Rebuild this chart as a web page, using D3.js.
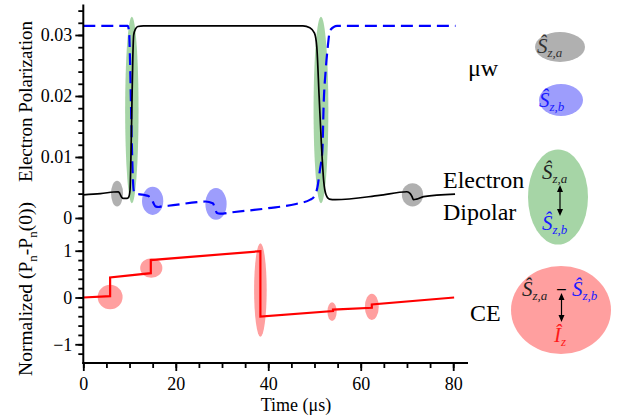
<!DOCTYPE html>
<html><head><meta charset="utf-8">
<script src="https://cdnjs.cloudflare.com/ajax/libs/d3/7.8.5/d3.min.js"></script>
<style>
body{margin:0;background:#fff}
svg{display:block}
svg text{font-family:"Liberation Serif","Times New Roman","DejaVu Serif",serif !important}
</style>
</head><body>
<svg id="c" width="618" height="419" font-family="Liberation Serif"></svg>
<script>
// ---------- data ----------
// electron polarization, S_z,a (solid black)
const saTime = [0, 3.7, 7.6, 7.9, 8.3, 8.7, 9.4, 9.8, 10.1, 10.3, 10.5, 10.7, 10.9, 11.3, 11.8, 13, 47.5, 49, 50, 50.5, 51, 51.5, 52, 52.5, 53.2, 54.5, 64, 70.0, 70.7, 71.1, 71.4, 72.1, 73.6, 80.4];
const saPol  = [0.0038, 0.0040, 0.0043, 0.0040, 0.0034, 0.0032, 0.0032, 0.0034, 0.0045, 0.010, 0.018, 0.026, 0.0300, 0.0310, 0.0314, 0.0315, 0.0315, 0.0312, 0.0303, 0.028, 0.020, 0.012, 0.006, 0.0038, 0.0031, 0.0030, 0.0037, 0.0043, 0.0040, 0.0035, 0.0030, 0.0031, 0.0035, 0.0039];
// electron polarization, S_z,b (dashed blue)
const sbTime = [0, 9.6, 9.9, 10.1, 10.3, 10.5, 10.7, 10.9, 11.2, 13.0, 14.1, 14.5, 14.8, 15.2, 15.6, 16.3, 17.0, 18.4, 24.6, 26.4, 28.0, 28.5, 28.9, 29.6, 31.8, 40, 46, 49.1, 50.0, 50.6, 51.2, 51.7, 52.0, 52.4, 52.8, 53.4, 54.9, 80.5];
const sbPol  = [0.0315, 0.0315, 0.0305, 0.026, 0.019, 0.012, 0.007, 0.0045, 0.0040, 0.0038, 0.0036, 0.0030, 0.0030, 0.0024, 0.0019, 0.0018, 0.0019, 0.0020, 0.0026, 0.0027, 0.0024, 0.0016, 0.0008, 0.0007, 0.0009, 0.0016, 0.0023, 0.0030, 0.0036, 0.0049, 0.008, 0.011, 0.019, 0.024, 0.0275, 0.0308, 0.0315, 0.0315];
// normalized nuclear polarization (red)
const ceTime = [0, 5.8, 5.8, 14.6, 14.6, 38.3, 38.3, 54.0, 54.0, 62.4, 62.4, 80.2];
const ceNorm = [0, 0.03, 0.43, 0.52, 0.80, 0.99, -0.41, -0.29, -0.26, -0.22, -0.15, 0.0];

// highlighted events: centre (t, value) and half-extent (in data units)
const muwAEvents = [[7.3, 0.0040, 1.3, 0.0021], [71.2, 0.0038, 2.3, 0.0019]];
const muwBEvents = [[15.0, 0.0028, 2.3, 0.0023], [28.7, 0.0023, 2.3, 0.0026]];
const dipolarEvents = [[10.5, 0.0177, 1.45, 0.0153], [51.4, 0.0177, 1.6, 0.0153]];
const ceEvents = [[5.8, 0.01, 2.7, 0.26], [14.7, 0.63, 2.4, 0.21], [38.3, 0.16, 1.36, 1.0], [53.8, -0.30, 1.0, 0.20], [62.4, -0.20, 1.5, 0.28]];

// axes
const xTicks = [0, 20, 40, 60, 80];
const xTickLabels = ["0", "20", "40", "60", "80"];
const topTicks = [0, 0.01, 0.02, 0.03];
const topTickLabels = ["0", "0.01", "0.02", "0.03"];
const botTicks = [-1, 0, 1];
const botTickLabels = ["\u22121", "0", "1"];

// ---------- drawing ----------
const SERIF = '"Liberation Serif","Times New Roman","DejaVu Serif",serif';
const svg = d3.select("#c");
svg.append("rect").attr("width", 618).attr("height", 419).attr("fill", "#fff");

const x = d3.scaleLinear().domain([0, 83.2]).range([83.3, 468]);
const yTop = d3.scaleLinear().domain([-0.0023, 0.035]).range([232, 4.5]);
const yBot = d3.scaleLinear().domain([-1.4, 1.4]).range([363, 232]);

const COL = {gray: "#b0b0b0", blue: "#9d9dfc", green: "#a6d5a6", red: "#ff9f9f"};

function ellipses(data, yS, fill) {
  svg.append("g").selectAll("ellipse").data(data).join("ellipse")
    .attr("cx", d => x(d[0])).attr("cy", d => yS(d[1]))
    .attr("rx", d => x(d[0] + d[2]) - x(d[0]))
    .attr("ry", d => yS(d[1]) - yS(d[1] + d[3]))
    .attr("fill", fill);
}
ellipses(dipolarEvents, yTop, COL.green);
ellipses(muwAEvents, yTop, COL.gray);
ellipses(muwBEvents, yTop, COL.blue);
ellipses(ceEvents, yBot, COL.red);

const lineTop = d3.line().x(d => x(d[0])).y(d => yTop(d[1])).curve(d3.curveMonotoneX);
const lineBot = d3.line().x(d => x(d[0])).y(d => yBot(d[1]));

svg.append("path").datum(sbTime.map((t, i) => [t, sbPol[i]]))
  .attr("d", lineTop).attr("fill", "none").attr("stroke", "#0000ff")
  .attr("stroke-width", 2.2).attr("stroke-dasharray", "12,6");
svg.append("path").datum(saTime.map((t, i) => [t, saPol[i]]))
  .attr("d", lineTop).attr("fill", "none").attr("stroke", "#000")
  .attr("stroke-width", 1.7);
svg.append("path").datum(ceTime.map((t, i) => [t, ceNorm[i]]))
  .attr("d", lineBot).attr("fill", "none").attr("stroke", "#ff0000")
  .attr("stroke-width", 2.2);

// axes
function styleAxis(g) {
  g.attr("font-family", SERIF).attr("font-size", 18);
  g.select(".domain").remove();
  g.selectAll("line").attr("stroke", "#000").attr("stroke-width", 1.8);
  g.selectAll("text").attr("fill", "#000").attr("font-family", SERIF).attr("font-size", 18);
}
const x0 = x(0);
svg.append("g").attr("transform", `translate(${x0},0)`)
  .call(d3.axisLeft(yTop).tickValues(d3.range(-1, 18).map(i => i * 0.002)).tickSize(5).tickFormat(""))
  .call(styleAxis);
svg.append("g").attr("transform", `translate(${x0},0)`)
  .call(d3.axisLeft(yTop).tickValues(topTicks).tickSize(8).tickPadding(3).tickFormat((d, i) => topTickLabels[i]))
  .call(styleAxis);
svg.append("g").attr("transform", `translate(${x0},0)`)
  .call(d3.axisLeft(yBot).tickValues(d3.range(-6, 7).map(i => i * 0.2)).tickSize(5).tickFormat(""))
  .call(styleAxis);
svg.append("g").attr("transform", `translate(${x0},0)`)
  .call(d3.axisLeft(yBot).tickValues(botTicks).tickSize(8).tickPadding(3).tickFormat((d, i) => botTickLabels[i]))
  .call(styleAxis);
const yAx = yBot(-1.4);
svg.append("g").attr("transform", `translate(0,${yAx})`)
  .call(d3.axisBottom(x).tickValues(d3.range(0, 17).map(i => i * 5)).tickSize(5).tickFormat(""))
  .call(styleAxis);
svg.append("g").attr("transform", `translate(0,${yAx})`)
  .call(d3.axisBottom(x).tickValues(xTicks).tickSize(8).tickPadding(6).tickFormat((d, i) => xTickLabels[i]))
  .call(styleAxis);
// axis lines
svg.append("line").attr("x1", x0).attr("x2", x0).attr("y1", yTop.range()[1]).attr("y2", yAx + 1)
  .attr("stroke", "#000").attr("stroke-width", 2);
svg.append("line").attr("x1", x0 - 1).attr("x2", x.range()[1]).attr("y1", yAx).attr("y2", yAx)
  .attr("stroke", "#000").attr("stroke-width", 2);

// axis titles
svg.append("text").attr("transform", "translate(32,101.5) rotate(-90)")
  .attr("text-anchor", "middle").attr("font-family", SERIF).attr("font-size", 19).text("Electron Polarization");
const t2 = svg.append("text").attr("transform", "translate(31.5,289) rotate(-90)")
  .attr("text-anchor", "middle").attr("font-family", SERIF).attr("font-size", 19.5);
t2.append("tspan").text("Normalized (P");
t2.append("tspan").attr("dy", 5).attr("font-size", 13).text("n");
t2.append("tspan").attr("dy", -5).text("-P");
t2.append("tspan").attr("dy", 5).attr("font-size", 13).text("n");
t2.append("tspan").attr("dy", -5).text("(0))");
svg.append("text").attr("x", 296).attr("y", 411).attr("text-anchor", "middle")
  .attr("font-family", SERIF).attr("font-size", 18).text("Time (\u03bcs)");

// ---------- right-side key ----------
function label(xp, yp, s) {
  svg.append("text").attr("x", xp).attr("y", yp).attr("font-family", SERIF).attr("font-size", 24).text(s);
}
label(468, 76, "\u03bcw");
label(443, 188, "Electron");
label(443, 220, "Dipolar");
label(470, 321, "CE");

svg.append("ellipse").attr("cx", 560).attr("cy", 47).attr("rx", 25).attr("ry", 15).attr("fill", COL.gray);
svg.append("ellipse").attr("cx", 561).attr("cy", 100).attr("rx", 22).attr("ry", 16).attr("fill", COL.blue);
svg.append("ellipse").attr("cx", 558).attr("cy", 197).attr("rx", 30).attr("ry", 47.5).attr("fill", COL.green);
svg.append("ellipse").attr("cx", 561).attr("cy", 310).attr("rx", 50).attr("ry", 44).attr("fill", COL.red);

function op(xp, yp, letter, sub, color) {
  const t = svg.append("text").attr("x", xp).attr("y", yp).attr("fill", color)
    .attr("font-family", SERIF).attr("font-style", "italic").attr("font-size", 21);
  t.append("tspan").text(letter);
  t.append("tspan").attr("dy", 4).attr("font-size", 13).text(sub);
}
op(537, 53, "\u015c", "z,a", "#333");
op(539, 107, "\u015c", "z,b", "#1a1aff");
op(542, 179, "\u015c", "z,a", "#222");
op(542, 230, "\u015c", "z,b", "#1a1aff");
op(522, 296, "\u015c", "z,a", "#222");
op(572, 296, "\u015c", "z,b", "#1a1aff");
op(554, 342, "\u00ce", "z", "#ff1a1a");
svg.append("text").attr("x", 561.5).attr("y", 296).attr("text-anchor", "middle")
  .attr("font-family", SERIF).attr("font-size", 19).attr("font-weight", "bold").text("\u2212");

function dblArrow(xp, y1, y2) {
  svg.append("line").attr("x1", xp).attr("x2", xp).attr("y1", y1 + 4).attr("y2", y2 - 4)
    .attr("stroke", "#000").attr("stroke-width", 1.2);
  svg.append("path").attr("d", `M${xp},${y1} l-3,7 l6,0 Z M${xp},${y2} l-3,-7 l6,0 Z`).attr("fill", "#000");
}
dblArrow(560, 185, 216);
dblArrow(561.5, 293, 322);
</script>
</body></html>
